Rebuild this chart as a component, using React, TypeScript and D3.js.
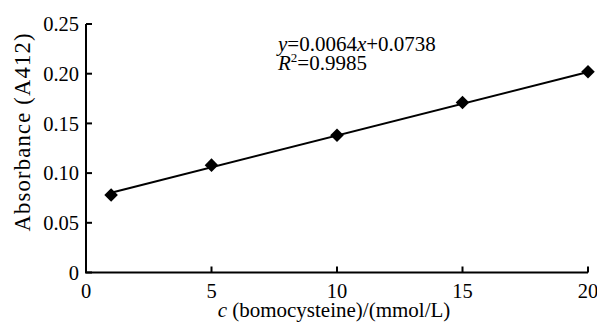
import React from "react";
import * as d3 from "d3";

const concentrations = [1, 5, 10, 15, 20];
const absorbances = [0.078, 0.108, 0.138, 0.171, 0.202];
const xTicks = [0, 5, 10, 15, 20];
const yTicks = [0, 0.05, 0.1, 0.15, 0.2, 0.25];
const yTickLabels = ["0", "0.05", "0.10", "0.15", "0.20", "0.25"];
const fitSlope = 0.0064;
const fitIntercept = 0.0738;
const fitRange = [1, 20];

const W = 597;
const H = 323;
const FONT = "'Liberation Serif', 'Times New Roman', serif";

export default function App() {
  const x = d3.scaleLinear().domain([0, 20]).range([86, 588]);
  const y = d3.scaleLinear().domain([0, 0.25]).range([272.5, 24]);
  const fitPts: [number, number][] = fitRange.map((v) => [x(v), y(fitSlope * v + fitIntercept)]);
  const line = d3.line();
  const diamond = d3.symbol().type(d3.symbolSquare).size(92)();

  return (
    <svg width={W} height={H} style={{ position: "absolute", left: 0, top: 0, background: "#fff" }}
      fontFamily={FONT}>
      <path d={`M${x(0)},${y(0.25)}V${y(0)}H${x(20)}`} fill="none" stroke="#000" strokeWidth={2} />
      {yTicks.map((t, i) => (
        <g key={"y" + i}>
          <line x1={x(0)} x2={x(0) + 6} y1={y(t)} y2={y(t)} stroke="#000" strokeWidth={2} />
          <text x={79} y={y(t)} dy="0.35em" textAnchor="end" fontSize={20.5} fill="#000">
            {yTickLabels[i]}
          </text>
        </g>
      ))}
      {xTicks.map((t, i) => (
        <g key={"x" + i}>
          <line x1={x(t)} x2={x(t)} y1={y(0)} y2={y(0) - 6} stroke="#000" strokeWidth={2} />
          <text x={x(t)} y={298} textAnchor="middle" fontSize={20.5} fill="#000">
            {t}
          </text>
        </g>
      ))}
      <path d={line(fitPts) || ""} fill="none" stroke="#000" strokeWidth={2} />
      {concentrations.map((c, i) => (
        <path key={"p" + i} d={diamond || ""} transform={`translate(${x(c)},${y(absorbances[i])}) rotate(45)`} fill="#000" />
      ))}
      <text x={278} y={51} fontSize={21} fill="#000">
        <tspan fontStyle="italic">y</tspan>=0.0064<tspan fontStyle="italic">x</tspan>+0.0738
      </text>
      <text x={278} y={70} fontSize={21} fill="#000">
        <tspan fontStyle="italic">R</tspan>
        <tspan fontSize={13} dy={-8}>2</tspan>
        <tspan dy={8}>=0.9985</tspan>
      </text>
      <text x={334} y={317} textAnchor="middle" fontSize={21} fill="#000">
        <tspan fontStyle="italic">c</tspan> (bomocysteine)/(mmol/L)
      </text>
      <text transform={`translate(29.5,132.5) rotate(-90)`} textAnchor="middle" fontSize={22.5} fill="#000"
        textLength={198} lengthAdjust="spacing">
        Absorbance (A412)
      </text>
    </svg>
  );
}
